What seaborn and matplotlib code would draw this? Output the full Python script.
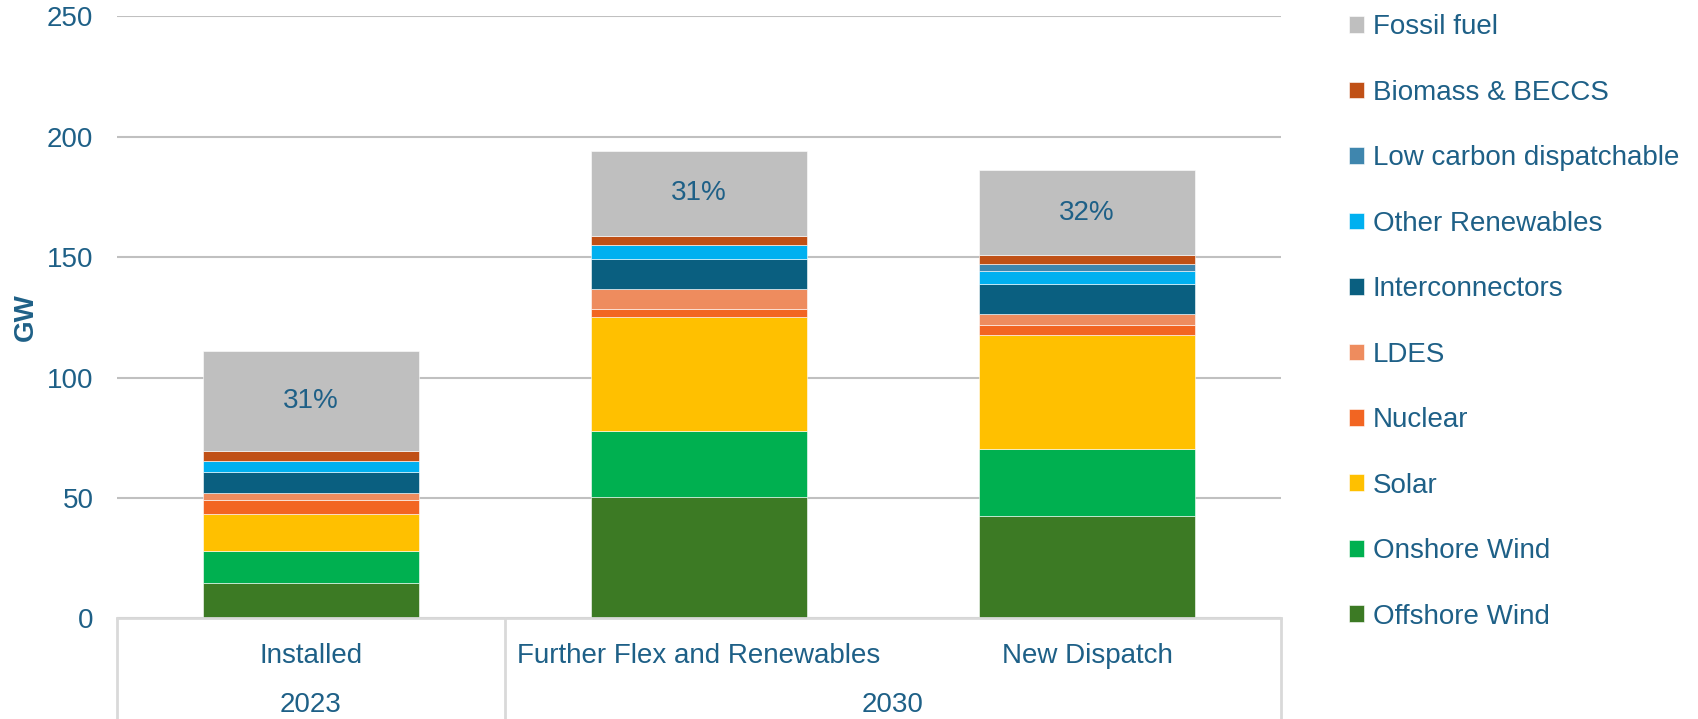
import matplotlib
matplotlib.use("Agg")
import matplotlib.pyplot as plt
import matplotlib.transforms as mtransforms
import numpy as np
import seaborn as sns

# Capacity mix by scenario (GW)
scenarios = ["Installed", "Further Flex and Renewables", "New Dispatch"]
years = ["2023", "2030"]
year_span = [(0, 0), (1, 2)]  # scenario indices covered by each year group

offshore_wind = [14.6, 50.5, 42.6]
onshore_wind = [13.5, 27.2, 27.6]
solar = [15.2, 47.4, 47.4]
nuclear = [5.8, 3.5, 4.2]
ldes = [3.1, 8.0, 4.6]
interconnectors = [8.4, 12.5, 12.3]
other_renewables = [4.7, 5.8, 5.6]
low_carbon_dispatchable = [0.0, 0.0, 2.8]
biomass_beccs = [4.2, 4.0, 3.8]
fossil_fuel = [41.5, 35.2, 35.2]

share_labels = ["31%", "31%", "32%"]

series = [
    ("Offshore Wind", offshore_wind, "#3C7A24"),
    ("Onshore Wind", onshore_wind, "#00B050"),
    ("Solar", solar, "#FFC000"),
    ("Nuclear", nuclear, "#F26522"),
    ("LDES", ldes, "#EE8C5E"),
    ("Interconnectors", interconnectors, "#0A5F80"),
    ("Other Renewables", other_renewables, "#00B0F0"),
    ("Low carbon dispatchable", low_carbon_dispatchable, "#3F86AE"),
    ("Biomass & BECCS", biomass_beccs, "#C05016"),
    ("Fossil fuel", fossil_fuel, "#BFBFBF"),
]

TEXT = "#1E6087"
GRID = "#C0C0C0"
FS = 20

sns.set_theme(style="white")
plt.rcParams["font.family"] = ["Liberation Sans", "DejaVu Sans"]
plt.rcParams["text.color"] = TEXT

fig = plt.figure(figsize=(16.98, 7.19), dpi=100)
ax = fig.add_axes([0.0689, 0.1399, 0.6855, 0.8376])

bottom = np.zeros(len(scenarios))
for name, vals, col in series:
    sns.barplot(x=scenarios, y=vals, bottom=bottom, color=col, label=name,
                width=0.555, errorbar=None, saturation=1, ax=ax,
                edgecolor="white", linewidth=0.4)
    bottom = bottom + np.array(vals)

if ax.get_legend() is not None:
    ax.get_legend().remove()

# Share labels centred in the fossil segment
fossil_base = bottom - np.array(fossil_fuel)
for i, txt in enumerate(share_labels):
    ax.text(i, fossil_base[i] + fossil_fuel[i] / 2, txt, ha="center",
            va="center", fontsize=FS, color=TEXT)

ax.set_ylim(0, 250)
ax.set_xlim(-0.5, 2.5)
ax.set_yticks(range(0, 251, 50))
ax.yaxis.grid(True, color=GRID, linewidth=1.5)
ax.set_axisbelow(True)
for s in ["top", "right", "left"]:
    ax.spines[s].set_visible(False)
ax.spines["bottom"].set_color("#D9D9D9")
ax.spines["bottom"].set_linewidth(2)
ax.tick_params(axis="y", length=0, pad=17, labelsize=FS, labelcolor=TEXT)
ax.tick_params(axis="x", length=0, pad=17.5, labelsize=FS, labelcolor=TEXT)
ax.set_xlabel("")
ax.set_ylabel("GW", fontsize=FS, fontweight="bold", color=TEXT)
ax.yaxis.set_label_coords(-0.067, 0.5)

# Two-level category axis frame
trans = mtransforms.blended_transform_factory(ax.transData, ax.transAxes)
for xb in [-0.5, 0.5, 2.5]:
    ax.plot([xb, xb], [0, -0.2], transform=trans, color="#D9D9D9",
            linewidth=2, clip_on=False)
for (a, b), yr in zip(year_span, years):
    ax.annotate(yr, xy=((a + b) / 2, 0), xycoords=trans,
                xytext=(0, -62), textcoords="offset points",
                ha="center", va="center", fontsize=FS, color=TEXT)

handles, labels = ax.get_legend_handles_labels()
leg = fig.legend(handles[::-1], labels[::-1], loc="upper left",
                 bbox_to_anchor=(1349 / 1698, 1 - 14.5 / 719), frameon=False,
                 fontsize=FS, handlelength=0.55, handleheight=0.55,
                 handletextpad=0.3, labelspacing=1.42, borderpad=0,
                 borderaxespad=0)
for t in leg.get_texts():
    t.set_color(TEXT)

fig.savefig("out.png", dpi=100)
